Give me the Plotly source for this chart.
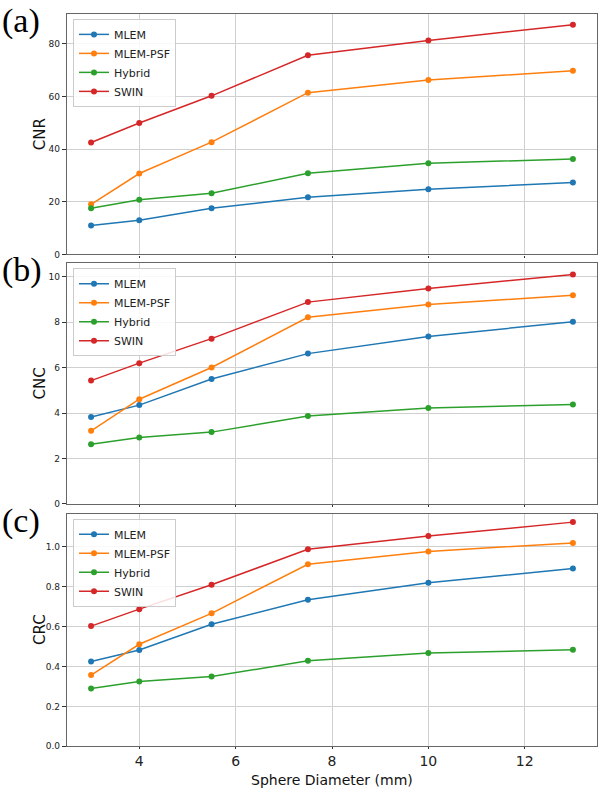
import plotly.graph_objects as go

diam = [3, 4, 5.5, 7.5, 10, 13]
series_names = ["MLEM", "MLEM-PSF", "Hybrid", "SWIN"]
colors = ["#1f77b4", "#ff7f0e", "#2ca02c", "#d62728"]

cnr_mlem = [11.0, 13.0, 17.5, 21.7, 24.7, 27.3]
cnr_psf = [19.0, 30.7, 42.6, 61.4, 66.2, 69.7]
cnr_hybrid = [17.5, 20.7, 23.2, 30.8, 34.6, 36.2]
cnr_swin = [42.5, 49.9, 60.2, 75.6, 81.2, 87.2]

cnc_mlem = [3.83, 4.35, 5.50, 6.62, 7.37, 8.03]
cnc_psf = [3.22, 4.61, 6.01, 8.22, 8.79, 9.19]
cnc_hybrid = [2.63, 2.92, 3.16, 3.87, 4.22, 4.38]
cnc_swin = [5.43, 6.20, 7.28, 8.89, 9.49, 10.11]

crc_mlem = [0.425, 0.482, 0.611, 0.734, 0.819, 0.891]
crc_psf = [0.357, 0.511, 0.666, 0.912, 0.976, 1.019]
crc_hybrid = [0.290, 0.324, 0.349, 0.428, 0.467, 0.484]
crc_swin = [0.602, 0.687, 0.809, 0.987, 1.053, 1.123]

panels = [
    ("CNR", [cnr_mlem, cnr_psf, cnr_hybrid, cnr_swin], [0, 91.3], 20, None, "(a)"),
    ("CNC", [cnc_mlem, cnc_psf, cnc_hybrid, cnc_swin], [0, 10.6], 2, None, "(b)"),
    ("CRC", [crc_mlem, crc_psf, crc_hybrid, crc_swin], [0, 1.165], 0.2, ".1f", "(c)"),
]

W, H = 600, 794
x0, x1 = 67 / W, 597 / W
ydoms = [(256, 14), (507, 265), (751, 517)]

fig = go.Figure()
for i, (ylab, data, yr, dt, fmt, tag) in enumerate(panels):
    k = i + 1
    xa = "x" if k == 1 else f"x{k}"
    ya = "y" if k == 1 else f"y{k}"
    lg = "legend" if k == 1 else f"legend{k}"
    for name, vals, c in zip(series_names, data, colors):
        fig.add_trace(go.Scatter(
            x=diam, y=vals, name=name, mode="lines+markers",
            line=dict(color=c, width=1.5), marker=dict(color=c, size=6),
            xaxis=xa, yaxis=ya, legend=lg, showlegend=True,
        ))
    bot, top = ydoms[i]
    dom = [1 - bot / H, 1 - top / H]
    xkey = "xaxis" if k == 1 else f"xaxis{k}"
    ykey = "yaxis" if k == 1 else f"yaxis{k}"
    fig.update_layout(**{
        xkey: dict(
            domain=[x0, x1], range=[2.5, 13.5], dtick=2, tick0=0,
            anchor=ya, showgrid=True, gridcolor="#d0d0d0", gridwidth=1,
            showline=True, linecolor="#666", linewidth=1.3, mirror=True,
            ticks="outside", ticklen=2, tickcolor="#333",
            showticklabels=(k == 3), zeroline=False,
            tickfont=dict(family="DejaVu Sans", size=14, color="#222"),
        ),
        ykey: dict(
            domain=dom, range=yr, dtick=dt, tick0=0, tickformat=fmt,
            anchor=xa, showgrid=True, gridcolor="#d0d0d0", gridwidth=1,
            showline=True, linecolor="#666", linewidth=1.3, mirror=True,
            ticks="outside", ticklen=4, tickcolor="#333", zeroline=False,
            tickfont=dict(family="DejaVu Sans", size=9, color="#222"),
        ),
        lg: dict(
            x=x0 + 6 / W, y=dom[1] - 5 / H, xref="paper", yref="paper",
            xanchor="left", yanchor="top",
            bgcolor="rgba(255,255,255,0.85)", bordercolor="#cccccc", borderwidth=1,
            font=dict(family="DejaVu Sans", size=11, color="#222"),
            tracegroupgap=0, itemwidth=30,
        ),
    })
    fig.add_annotation(
        x=40 / W, y=(dom[0] + dom[1]) / 2, xref="paper", yref="paper",
        xanchor="center", yanchor="middle",
        text=ylab, textangle=-90, showarrow=False,
        font=dict(family="DejaVu Sans", size=15, color="#111"),
    )
    fig.add_annotation(
        x=0, y=dom[1] + 14 / H, xref="paper", yref="paper",
        xanchor="left", yanchor="top", text=tag, showarrow=False,
        font=dict(family="Liberation Serif", size=34, color="#000"),
    )

fig.add_annotation(
    x=(x0 + x1) / 2, y=0, xref="paper", yref="paper",
    xanchor="center", yanchor="bottom", borderpad=0,
    text="Sphere Diameter (mm)", showarrow=False,
    font=dict(family="DejaVu Sans", size=14, color="#111"),
)

fig.update_layout(
    width=W, height=H, margin=dict(l=0, r=0, t=0, b=0),
    paper_bgcolor="white", plot_bgcolor="white", showlegend=True,
)
fig.write_html("out.html")
